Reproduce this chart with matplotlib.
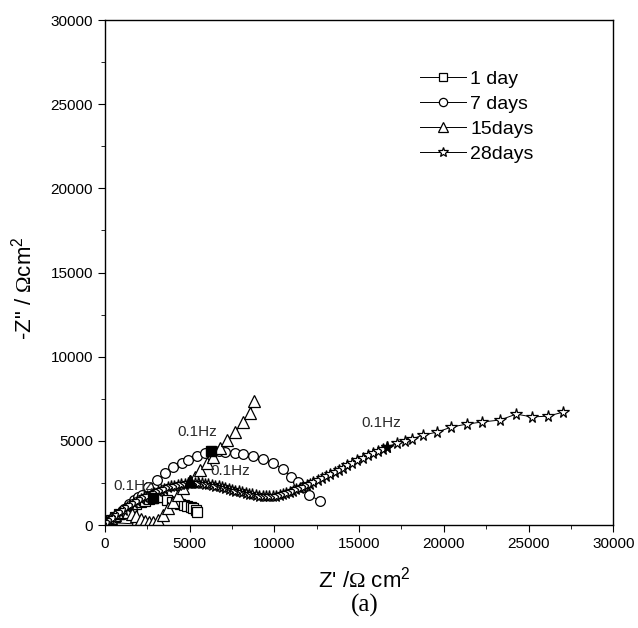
import matplotlib
matplotlib.use("Agg")
import matplotlib.pyplot as plt

plt.rcParams['font.family'] = ['Liberation Sans', 'DejaVu Sans']
plt.rcParams['mathtext.fontset'] = 'custom'
plt.rcParams['mathtext.rm'] = 'Liberation Serif'
plt.rcParams['mathtext.sf'] = 'Liberation Sans'
plt.rcParams['mathtext.it'] = 'Liberation Sans:italic'

# Nyquist data, Z' and -Z'' in ohm cm2
day1_x = [0, 150, 350, 600, 850, 1100, 1350, 1600, 1850, 2100, 2350, 2600, 2830, 3100, 3360,
          3650, 3950, 4200, 4430, 4650, 4840, 5050, 5200, 5350, 5430]
day1_y = [0, 120, 280, 460, 640, 800, 950, 1090, 1220, 1340, 1450, 1540, 1600, 1640, 1660,
          1500, 1370, 1300, 1250, 1180, 1130, 1060, 1000, 880, 760]

day7_x = [1900, 200, 500, 800, 1100, 1400, 1700, 1950, 2200, 2550, 3070, 3540, 4020, 4550,
          4900, 5430, 5900, 6260, 6700, 7090, 7680, 8150, 8740, 9330, 9920, 10480, 11000,
          11380, 11700, 12050, 12700]
day7_y = [60, 150, 400, 680, 950, 1220, 1480, 1650, 1800, 2260, 2670, 3090, 3440, 3680,
          3860, 4100, 4280, 4400, 4380, 4340, 4280, 4220, 4100, 3920, 3680, 3330, 2870,
          2570, 2260, 1780, 1430]

day15_x = [0, 150, 350, 600, 850, 1100, 1350, 1600, 1850, 2100, 2350, 2600, 2850, 3130,
           3430, 3720, 4020, 4330, 4630, 5000, 5320, 5610, 6020, 6380, 6790, 7200, 7680,
           8150, 8560, 8800]
day15_y = [0, 200, 420, 600, 740, 800, 780, 680, 520, 360, 240, 170, 180, 300,
           590, 1010, 1370, 1780, 2200, 2640, 2850, 3270, 3680, 4040, 4570, 5050, 5520,
           6120, 6650, 7370]

day28_x = [0, 100, 200, 350, 500, 700, 900, 1100, 1300, 1500, 1700, 1900, 2100, 2300, 2500,
           2700, 2900, 3100, 3300, 3500, 3700, 3900, 4100, 4300, 4500, 4700, 4900, 5100,
           5300, 5500, 5700, 5900, 6100, 6300, 6500, 6700, 6900, 7100, 7300, 7500, 7700,
           7900, 8100, 8300, 8500, 8700, 8900, 9100, 9300, 9500, 9700, 9900, 10100, 10300,
           10500, 10700, 10900, 11100, 11300, 11500, 11700, 11900, 12100, 12300, 12550,
           12800, 13050, 13300, 13550, 13800, 14050, 14300, 14600, 14900, 15200, 15500,
           15800, 16100, 16400, 16650, 17240, 17700, 18130, 18780, 19610, 20440, 21380,
           22260, 23330, 24270, 25210, 26160, 27050]
day28_y = [0, 80, 170, 300, 430, 600, 760, 910, 1050, 1180, 1310, 1430, 1540, 1650, 1750,
           1840, 1930, 2010, 2090, 2160, 2230, 2290, 2340, 2390, 2430, 2460, 2480, 2500,
           2500, 2490, 2470, 2440, 2410, 2380, 2340, 2300, 2250, 2200, 2150, 2100, 2050,
           2000, 1950, 1900, 1860, 1820, 1780, 1750, 1720, 1700, 1700, 1710, 1740, 1780,
           1830, 1890, 1960, 2030, 2110, 2190, 2280, 2370, 2460, 2550, 2660,
           2780, 2900, 3020, 3150, 3280, 3410, 3540, 3700, 3860, 4000, 4130,
           4260, 4380, 4500, 4630, 4870, 5000, 5110, 5350, 5520, 5820, 6000,
           6120, 6240, 6590, 6420, 6470, 6710]

labels = ['1 day', '7 days', '15days', '28days']
markers = ['s', 'o', '^', '*']
sizes = [6.5, 7, 8, 8.5]
hz_index = [12, 17, 19, 79]  # point measured at 0.1 Hz in each series
hz_marker = ['s', 's', '^', '*']
hz_offset = [(-14, 9), (-10, 14), (29, 7), (-4, 17)]  # label offsets in points

series = [(day1_x, day1_y), (day7_x, day7_y), (day15_x, day15_y), (day28_x, day28_y)]

fig = plt.figure(figsize=(6.38, 6.28), dpi=100)
ax = fig.add_axes([0.1646, 0.164, 0.7966, 0.804])

for (xs, ys), lab, m, ms in zip(series, labels, markers, sizes):
    ax.plot(xs, ys, color='black', lw=0.7, marker=m, ms=ms, mfc='white',
            mec='black', mew=0.9, label=lab)

# filled markers + 0.1Hz labels
for (xs, ys), i, m, off, ms in zip(series, hz_index, hz_marker, hz_offset, sizes):
    ax.plot(xs[i], ys[i], marker=m, ms=ms, color='black', ls='none', zorder=5)
    ax.annotate('0.1Hz', (xs[i], ys[i]), xytext=off, textcoords='offset points',
                ha='center', va='center', fontsize=11, color='#2a2a2a')

ax.set_xlim(0, 30000)
ax.set_ylim(0, 30000)
ax.set_xticks(range(0, 30001, 5000))
ax.set_yticks(range(0, 30001, 5000))
ax.set_xticks(range(0, 30001, 2500), minor=True)
ax.set_yticks(range(0, 30001, 2500), minor=True)
ax.tick_params(which='both', direction='out', labelsize=11, top=False, right=False)
ax.tick_params(which='major', length=5)
ax.tick_params(which='minor', length=3)
for s in ax.spines.values():
    s.set_linewidth(1.0)

ax.set_xlabel(r"Z' /$\mathrm{\Omega}$ cm$^{\mathsf{2}}$", fontsize=16)
ax.set_ylabel(r'-Z" / $\mathrm{\Omega}$cm$^{\mathsf{2}}$', fontsize=16)
ax.xaxis.set_label_coords(0.51, -0.082)
ax.yaxis.set_label_coords(-0.134, 0.47)

leg = ax.legend(loc='upper left', bbox_to_anchor=(0.585, 0.935), frameon=False,
                fontsize=14, handlelength=2.4, handletextpad=0.2, labelspacing=0.38,
                markerscale=0.85)

fig.text(0.572, 0.036, '(a)', ha='center', va='center', fontsize=18,
         family='Liberation Serif')

fig.savefig('out.png', dpi=100)
